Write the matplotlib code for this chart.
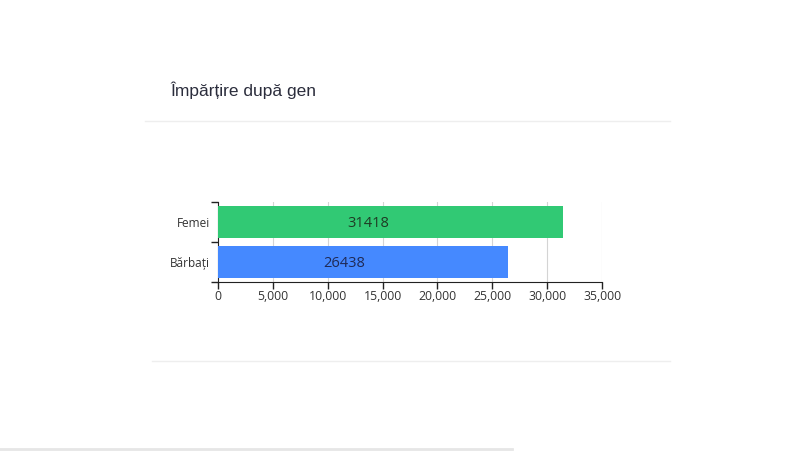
import matplotlib
matplotlib.use("Agg")
import matplotlib.pyplot as plt
from matplotlib.ticker import FuncFormatter, FixedLocator

# data
categories = ["Bărbați", "Femei"]
values = [26438, 31418]
bar_colors = ["#4589ff", "#31c974"]
label_colors = ["#1f2a55", "#1f3a24"]
x_ticks = [0, 5000, 10000, 15000, 20000, 25000, 30000, 35000]

plt.rcParams['font.family'] = ['Open Sans', 'DejaVu Sans']

fig = plt.figure(figsize=(8, 4.53), dpi=100)
fig.patch.set_facecolor("white")

# card decorations (title + separator lines)
fig.text(170 / 800, 1 - 90 / 453, "Împărțire după gen", fontsize=12.5,
         color="#2b2d3c", ha="left", va="center", family=['Liberation Sans', 'DejaVu Sans'])
fig.add_artist(plt.Line2D([145 / 800, 670 / 800], [1 - 121 / 453] * 2,
                          color="#eeeeee", lw=1))
fig.add_artist(plt.Line2D([152 / 800, 670 / 800], [1 - 361 / 453] * 2,
                          color="#eeeeee", lw=1))
fig.add_artist(plt.Line2D([0, 512 / 800], [1 - 449 / 453] * 2,
                          color="#e6e6e6", lw=2))

ax = fig.add_axes([218 / 800, 1 - 282 / 453, (602 - 218) / 800, (282 - 202) / 453])

y = range(len(categories))
ax.barh(y, values, height=0.8, color=bar_colors, zorder=3)
for i, v in enumerate(values):
    ax.text(v * 0.435, i - 0.04, str(v), ha="center", va="center", fontsize=10.5,
            color=label_colors[i], zorder=4)

ax.set_xlim(0, 35000)
ax.set_ylim(-0.5, 1.5)
ax.xaxis.set_major_locator(FixedLocator(x_ticks))
ax.xaxis.set_major_formatter(FuncFormatter(lambda v, p: f"{int(v):,}"))
ax.set_yticks([0, 1])
ax.set_yticklabels(categories)
ax.yaxis.set_minor_locator(FixedLocator([-0.5, 0.5, 1.5]))
ax.tick_params(axis="y", which="major", length=0, labelsize=8.5, colors="#333333", pad=6)
ax.tick_params(axis="y", which="minor", length=5, width=1, color="#222222")
ax.tick_params(axis="x", length=5, width=1, color="#222222", labelsize=8.8,
               labelcolor="#333333", pad=1)

ax.grid(axis="x", color="#d4d4d4", lw=0.8, zorder=0)
for s in ["top", "right"]:
    ax.spines[s].set_visible(False)
ax.spines["left"].set_color("#222222")
ax.spines["bottom"].set_color("#222222")
ax.set_facecolor("white")

fig.savefig("out.png", dpi=100, facecolor="white")
